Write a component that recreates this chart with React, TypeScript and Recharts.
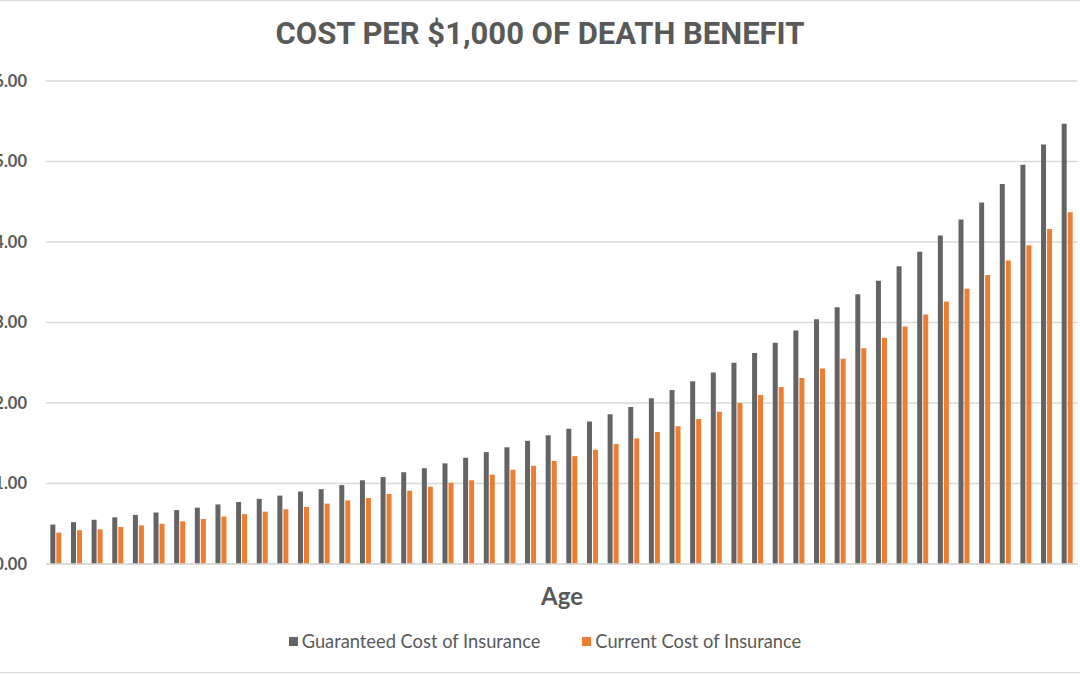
import React from 'react';
import { BarChart, Bar, XAxis, YAxis, CartesianGrid, Legend } from 'recharts';

const ages: number[] = [
  35, 36, 37, 38, 39, 40, 41, 42, 43, 44, 45, 46, 47, 48, 49, 50, 51, 52, 53, 54, 55, 56, 57, 58, 59,
  60, 61, 62, 63, 64, 65, 66, 67, 68, 69, 70, 71, 72, 73, 74, 75, 76, 77, 78, 79, 80, 81, 82, 83, 84,
];

const guaranteedCost: number[] = [
  0.49, 0.52, 0.55, 0.58, 0.61, 0.64, 0.67, 0.70, 0.74, 0.77, 0.81, 0.85, 0.90, 0.93, 0.98, 1.04, 1.08,
  1.14, 1.19, 1.25, 1.32, 1.39, 1.45, 1.53, 1.60, 1.68, 1.77, 1.86, 1.95, 2.06, 2.16, 2.27,
  2.38, 2.50, 2.62, 2.75, 2.90, 3.04, 3.19, 3.35, 3.52, 3.70, 3.88, 4.08, 4.28, 4.49, 4.72, 4.96, 5.21, 5.47,
];

const currentCost: number[] = [
  0.39, 0.42, 0.43, 0.46, 0.48, 0.50, 0.53, 0.56, 0.59, 0.62, 0.65, 0.68, 0.71, 0.75, 0.79, 0.82, 0.87,
  0.91, 0.96, 1.01, 1.04, 1.11, 1.17, 1.22, 1.28, 1.34, 1.42, 1.49, 1.56, 1.64, 1.71, 1.80,
  1.89, 2.00, 2.10, 2.20, 2.31, 2.43, 2.55, 2.68, 2.81, 2.95, 3.10, 3.26, 3.42, 3.59, 3.77, 3.96, 4.16, 4.37,
];

const seriesNames: string[] = ['Guaranteed Cost of Insurance', 'Current Cost of Insurance'];

const yTicks: number[] = [0, 1, 2, 3, 4, 5, 6];

const TEXT = '#595959';
const GRID = '#d9d9d9';

const data = ages.map((age, i) => ({
  age,
  guaranteed: guaranteedCost[i],
  current: currentCost[i],
}));

const renderLegend = (props: any) => {
  // keep series order (legend sorts by name otherwise)
  const items = [...(props.payload || [])].sort(
    (a: any, b: any) => seriesNames.indexOf(a.value) - seriesNames.indexOf(b.value)
  );
  return (
    <div style={{ display: 'flex', justifyContent: 'center', gap: 42, fontFamily: 'Lato, sans-serif', fontSize: 18.3, color: TEXT }}>
      {items.map((entry: any) => (
        <span key={entry.value} style={{ display: 'inline-flex', alignItems: 'center' }}>
          <span style={{ display: 'inline-block', width: 9, height: 9, background: entry.color, marginRight: 4 }} />
          {entry.value}
        </span>
      ))}
    </div>
  );
};

const App: React.FC = () => {
  return (
    <div
      style={{
        position: 'absolute',
        left: 0,
        top: 0,
        width: 1080,
        height: 675,
        background: '#fff',
        fontFamily: 'Lato, sans-serif',
        overflow: 'hidden',
      }}
    >
      <div style={{ position: 'absolute', left: 0, top: 0, width: 1080, height: 1, background: GRID }} />
      <div style={{ position: 'absolute', left: 0, top: 672, width: 1080, height: 1, background: GRID }} />
      <div
        style={{
          position: 'absolute',
          top: 15,
          left: 0,
          width: 1080,
          textAlign: 'center',
          fontFamily: 'Roboto, sans-serif',
          fontWeight: 700,
          fontSize: 31,
          color: TEXT,
        }}
      >
        COST PER $1,000 OF DEATH BENEFIT
      </div>
      <BarChart
        width={1080}
        height={675}
        data={data}
        margin={{ top: 81, right: 2, left: 0, bottom: 0 }}
        barCategoryGap="21%"
        barGap={1}
      >
        <CartesianGrid vertical={false} stroke={GRID} strokeWidth={1.5} />
        <XAxis
          dataKey="age"
          tick={false}
          tickLine={false}
          axisLine={{ stroke: GRID, strokeWidth: 1.5 }}
          height={111}
          label={{ value: 'Age', position: 'insideTop', offset: 24, fill: TEXT, fontSize: 24, fontWeight: 700 }}
        />
        <YAxis
          width={46}
          domain={[0, 6]}
          ticks={yTicks}
          interval={0}
          axisLine={false}
          tickLine={false}
          tickMargin={13}
          tickFormatter={(v: number) => `$${v.toFixed(2)}`}
          tick={{ fill: TEXT, fontSize: 16.5, fontWeight: 700 }}
        />
        <Legend
          verticalAlign="middle"
          align="center"
          content={renderLegend}
          wrapperStyle={{ top: 630, left: 10, width: 1070 }}
        />
        <Bar dataKey="guaranteed" name={seriesNames[0]} fill="#646464" isAnimationActive={false} />
        <Bar dataKey="current" name={seriesNames[1]} fill="#ED7D31" isAnimationActive={false} />
      </BarChart>
    </div>
  );
};

export default App;
